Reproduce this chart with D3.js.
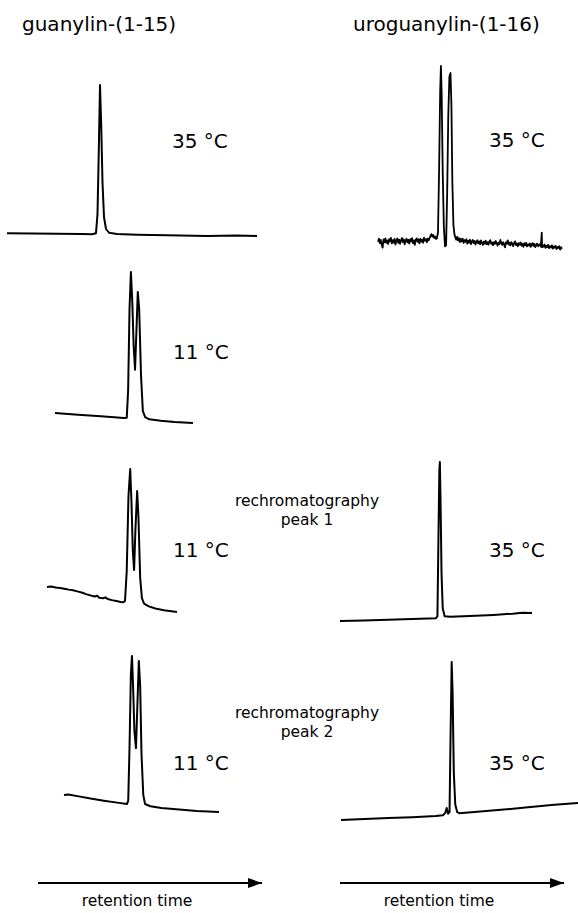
<!DOCTYPE html>
<html>
<head>
<meta charset="utf-8">
<script src="https://cdn.jsdelivr.net/npm/d3@7"></script>
<style>
  html, body { margin: 0; padding: 0; background: #fff; }
  svg { display: block; }
  text { font-family: "DejaVu Sans", Verdana, sans-serif; fill: #000; }
</style>
</head>
<body>
<svg id="chart" width="578" height="913"></svg>
<script>
// ---------------- DATA (retention time, relative signal) ----------------
const columnTitles = ["guanylin-(1-15)", "uroguanylin-(1-16)"];
const temperatureLabels = ["35 °C", "11 °C", "11 °C", "11 °C", "35 °C", "35 °C", "35 °C"];
const rechromLabels = [["rechromatography", "peak 1"], ["rechromatography", "peak 2"]];
const axisLabel = "retention time";

// guanylin-(1-15), 35 °C
const guanylin35 = [
  [0,1.2],[5,1.0],[10,0.8],[15,0.6],[17,0.5],[17.8,1.2],[18.1,14],[18.35,55],[18.6,100],
  [18.85,72],[19.1,35],[19.4,12],[19.8,4],[20.4,1.5],[22,0.6],[26,0.2],[32,-0.2],[40,-0.6],[46,-0.4],[50,-0.6]
];

// uroguanylin-(1-16), 35 °C (noisy baseline)
const uroguanylin35 = [
  [0,-0.4],[0.25,1.3],[0.5,-1.2],[0.75,0.6],[1,-2.1],[1.25,-3.8],[1.5,0.9],[1.75,-0.7],[2,1.5],[2.25,-1.0],
  [2.5,0.3],[2.75,-1.7],[3,1.1],[3.25,-0.2],[3.5,1.8],[3.75,-1.4],[4,0.5],[4.25,-0.9],[4.5,1.2],[4.75,-2.0],
  [5,0.2],[5.25,1.4],[5.5,-1.1],[5.75,0.8],[6,-1.6],[6.25,0.4],[6.5,1.7],[6.75,-0.6],[7,0.9],[7.25,-1.9],
  [7.5,0.1],[7.75,1.3],[8,-0.8],[8.25,0.6],[8.5,-1.5],[8.75,1.0],[9,-0.3],[9.25,1.6],[9.5,-1.2],[9.75,0.4],
  [10,-2.2],[10.25,0.7],[10.5,1.5],[10.75,-0.5],[11,0.9],[11.25,-1.3],[11.5,1.2],[11.75,-0.4],[12,0.8],[12.25,-1.0],
  [12.5,1.9],[12.75,0.2],[13,1.1],[13.25,-0.7],[13.5,1.4],[13.75,0.3],[14,1.6],[14.25,2.8],[14.5,3.9],[14.75,2.5],
  [15,3.4],[15.25,1.8],[15.5,2.6],[15.75,1.2],[16,1.5],
  [16.3,5],[16.6,40],[16.9,86],[17.1,100],[17.3,84],[17.6,38],[17.9,8],[18.2,-3],[18.5,-2.5],
  [18.8,28],[19.1,72],[19.4,94],[19.7,96],[19.95,78],[20.2,34],[20.5,9],[20.8,3.5],
  [21,2.2],[21.25,0.8],[21.5,2.4],[21.75,0.3],[22,1.6],[22.25,-0.6],[22.5,1.2],[22.75,-0.2],[23,1.4],[23.25,-1.1],
  [23.5,0.5],[23.75,-0.4],[24,1.0],[24.25,-1.5],[24.5,0.2],[24.75,-0.9],[25,0.7],[25.25,-1.8],[25.5,-0.3],[25.75,0.6],
  [26,-1.2],[26.25,0.1],[26.5,-2.0],[26.75,-0.5],[27,0.4],[27.25,-1.4],[27.5,-0.2],[27.75,-1.9],[28,0.3],[28.25,-1.0],
  [28.5,-2.3],[28.75,-0.4],[29,-1.5],[29.25,0.2],[29.5,-1.8],[29.75,-0.7],[30,-2.1],[30.25,-0.3],[30.5,0.5],[30.75,-1.6],
  [31,-0.8],[31.25,-2.4],[31.5,-0.6],[31.75,-1.7],[32,0.0],[32.25,-1.3],[32.5,-2.6],[32.75,-0.9],[33,-1.8],[33.25,0.6],
  [33.5,-1.1],[33.75,-2.2],[34,-0.7],[34.25,-1.9],[34.5,-3.6],[34.75,-0.8],[35,-1.4],[35.25,0.4],[35.5,-2.0],[35.75,-1.0],
  [36,-2.5],[36.25,-0.6],[36.5,-1.7],[36.75,-2.9],[37,-1.1],[37.25,-0.2],[37.5,-2.3],[37.75,-1.4],[38,-3.0],[38.25,-1.2],
  [38.5,-2.1],[38.75,-0.8],[39,-2.7],[39.25,-1.6],[39.5,-3.3],[39.75,-1.3],[40,-2.4],[40.25,-1.0],[40.5,-3.1],[40.75,-1.9],
  [41,-2.6],[41.25,-1.4],[41.5,-3.4],[41.75,-2.0],[42,-1.2],[42.25,-2.8],[42.5,-1.7],[42.75,-3.5],[43,-2.2],[43.25,-1.5],
  [43.5,-3.0],[43.75,-2.4],[44,-1.8],[44.25,-3.2],[44.5,4.8],[44.6,-3.6],[44.75,-2.5],[45,-3.3],[45.25,-2.0],[45.5,-3.9],
  [45.75,-2.7],[46,-3.4],[46.25,-2.2],[46.5,-4.1],[46.75,-3.0],[47,-3.7],[47.25,-2.5],[47.5,-4.3],[47.75,-3.1],[48,-3.8],
  [48.25,-2.8],[48.5,-4.6],[48.75,-3.4],[49,-4.0],[49.25,-3.0],[49.5,-4.9],[49.75,-3.6],[50,-4.4]
];

// guanylin-(1-15), 11 °C
const guanylin11 = [
  [0,4.7],[5,3.6],[10,2.5],[15,1.4],[15.6,1.6],[15.9,20],[16.2,75],[16.5,100],[16.8,80],[17.1,50],
  [17.4,34],[17.7,60],[18.0,86.5],[18.3,75],[18.7,30],[19.1,6],[19.6,2],[20.5,0.5],[23,-0.5],[26,-1.3],[30,-2]
];

// guanylin-(1-15), rechromatography peak 1, 11 °C
const guanylinRechrom1 = [
  [0,13.2],[1,13.6],[2,12.8],[3,12.5],[4,12.0],[5,11.3],[6,10.8],[7,10.0],[8,9.2],[9,8.0],[10,7.1],
  [11,6.2],[11.6,6.8],[12,5.4],[13,5.0],[13.5,5.6],[14,4.4],[15,3.6],[16,2.9],[17,2.2],[17.6,2.0],
  [18.0,3],[18.4,25],[18.8,80],[19.2,100],[19.5,75],[19.8,40],[20.1,25.7],[20.4,55],[20.8,83.8],
  [21.1,65],[21.5,20],[21.9,5],[22.4,1],[23.5,-1],[25,-2.6],[27,-3.8],[30,-5.1]
];

// guanylin-(1-15), rechromatography peak 2, 11 °C
const guanylinRechrom2 = [
  [0,7.9],[1,8.3],[3,7.2],[6,5.6],[9,4.2],[12,2.9],[14.2,2.0],[14.5,4],[14.8,40],[15.1,88],
  [15.35,100],[15.6,80],[15.9,50],[16.25,39],[16.6,70],[16.9,96.7],[17.2,80],[17.5,35],[17.9,8],
  [18.3,2],[19.5,0.5],[22,-0.6],[26,-1.7],[30,-2.6],[35,-3.3]
];

// uroguanylin-(1-16), rechromatography peak 1, 35 °C
const uroguanylinRechrom1 = [
  [0,0],[5,0.3],[10,0.8],[15,1.2],[20,1.8],[20.3,3],[20.5,50],[20.7,95],[20.8,100],[20.95,75],
  [21.15,30],[21.4,8],[21.8,3],[23,2.6],[27,3.1],[32,3.8],[36,4.6],[38,5.2],[40,5.0]
];

// uroguanylin-(1-16), rechromatography peak 2, 35 °C
const uroguanylinRechrom2 = [
  [0,0],[5,0.6],[10,1.2],[15,1.8],[20,2.6],[21.5,3.0],[22.0,4.5],[22.3,7.6],[22.6,4.0],[22.9,5],
  [23.1,50],[23.35,100],[23.55,80],[23.8,30],[24.1,10],[24.5,5],[25,4.3],[30,5.5],[35,6.8],[40,8.2],
  [45,9.6],[50,10.8]
];

// ---------------- LAYOUT ----------------
const panels = [
  { data: guanylin35,          xDomain: [0, 50], box: { x0: 7,   x1: 257, yBase: 235, yTop: 85 },  label: 0, lx: 172, ly: 148, sw: 2 },
  { data: uroguanylin35,       xDomain: [0, 50], box: { x0: 378, x1: 562, yBase: 241, yTop: 66 },  label: 4, lx: 489, ly: 147, sw: 1.8 },
  { data: guanylin11,          xDomain: [0, 30], box: { x0: 55,  x1: 193, yBase: 420, yTop: 272 }, label: 1, lx: 173, ly: 359, sw: 2 },
  { data: guanylinRechrom1,    xDomain: [0, 30], box: { x0: 47,  x1: 177, yBase: 605, yTop: 469 }, label: 2, lx: 173, ly: 557, sw: 2 },
  { data: uroguanylinRechrom1, xDomain: [0, 40], box: { x0: 340, x1: 532, yBase: 621, yTop: 462 }, label: 5, lx: 489, ly: 557, sw: 2 },
  { data: guanylinRechrom2,    xDomain: [0, 35], box: { x0: 64,  x1: 219, yBase: 807, yTop: 656 }, label: 3, lx: 173, ly: 770, sw: 2 },
  { data: uroguanylinRechrom2, xDomain: [0, 50], box: { x0: 341, x1: 578, yBase: 820, yTop: 662 }, label: 6, lx: 489, ly: 770, sw: 2 }
];

const svg = d3.select("#chart");

// column titles
svg.append("text").attr("x", 22).attr("y", 31).attr("font-size", 20).text(columnTitles[0]);
svg.append("text").attr("x", 353).attr("y", 31).attr("font-size", 20).text(columnTitles[1]);

// traces
panels.forEach(p => {
  const x = d3.scaleLinear().domain(p.xDomain).range([p.box.x0, p.box.x1]);
  const y = d3.scaleLinear().domain([0, 100]).range([p.box.yBase, p.box.yTop]);
  const line = d3.line().x(d => x(d[0])).y(d => y(d[1])).curve(d3.curveLinear);
  svg.append("path")
    .datum(p.data)
    .attr("d", line)
    .attr("fill", "none")
    .attr("stroke", "#000")
    .attr("stroke-width", p.sw)
    .attr("stroke-linejoin", "round");
  svg.append("text")
    .attr("x", p.lx).attr("y", p.ly)
    .attr("font-size", 20)
    .text(temperatureLabels[p.label]);
});

// rechromatography labels
const rechromY = [506, 718];
rechromLabels.forEach((lines, i) => {
  const t = svg.append("text")
    .attr("x", 307).attr("y", rechromY[i])
    .attr("font-size", 15.5)
    .attr("text-anchor", "middle");
  lines.forEach((s, j) => {
    t.append("tspan").attr("x", 307).attr("dy", j === 0 ? 0 : 19).text(s);
  });
});

// retention-time arrows (x axes)
const defs = svg.append("defs");
defs.append("marker")
  .attr("id", "arrowhead")
  .attr("viewBox", "0 0 14 10")
  .attr("refX", 14).attr("refY", 5)
  .attr("markerWidth", 14).attr("markerHeight", 10)
  .attr("markerUnits", "userSpaceOnUse")
  .attr("orient", "auto")
  .append("path").attr("d", "M0,0 L14,5 L0,10 Z").attr("fill", "#000");

const axes = [
  { x0: 38, x1: 262, y: 883, tx: 137 },
  { x0: 340, x1: 564, y: 883, tx: 439 }
];
axes.forEach(a => {
  const sx = d3.scaleLinear().domain([0, 1]).range([a.x0, a.x1]);
  svg.append("line")
    .attr("x1", sx(0)).attr("x2", sx(1))
    .attr("y1", a.y).attr("y2", a.y)
    .attr("stroke", "#000").attr("stroke-width", 2)
    .attr("marker-end", "url(#arrowhead)");
  svg.append("text")
    .attr("x", a.tx).attr("y", a.y + 23)
    .attr("font-size", 15.5)
    .attr("text-anchor", "middle")
    .text(axisLabel);
});
</script>
</body>
</html>
